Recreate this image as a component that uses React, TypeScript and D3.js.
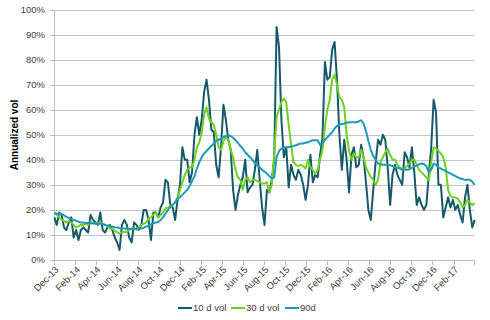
import React, { useRef, useEffect } from "react";
import { select, scaleTime, scaleLinear, line, timeMonth, timeFormat } from "d3";

// weekly observations starting 2 Dec 2013
const startDate = new Date(2013, 11, 2);

const vol10d = [
  17, 14, 19, 18, 13, 12, 15, 17, 9, 12, 8, 12, 13, 12, 11, 18, 16, 15, 14, 19,
  12, 11, 13, 14, 12, 9, 7, 4, 14, 16, 14, 9, 7, 15, 14, 12, 14, 20, 20, 16,
  8, 19, 19, 17, 21, 23, 32, 31, 22, 21, 16, 24, 30, 45, 40, 40, 31, 35, 50, 57,
  50, 56, 67, 72, 64, 52, 51, 38, 33, 45, 62, 56, 48, 44, 28, 20, 26, 30, 33, 40,
  27, 29, 30, 36, 44, 32, 21, 14, 28, 27, 32, 40, 93, 85, 56, 41, 45, 29, 38, 34,
  32, 36, 34, 30, 24, 30, 42, 31, 34, 33, 42, 49, 79, 72, 73, 84, 87, 72, 50, 36,
  48, 40, 27, 42, 45, 37, 38, 46, 41, 31, 20, 16, 28, 39, 48, 46, 50, 48, 37, 22,
  34, 38, 34, 32, 30, 43, 41, 37, 45, 35, 22, 25, 22, 20, 22, 34, 45, 64, 59, 30,
  30, 17, 21, 25, 21, 24, 20, 22, 18, 15, 25, 30, 20, 13, 16,
];

const vol30d = [
  19, 18, 17, 16, 15.5, 15, 15.5, 15, 14, 13, 13.5, 14, 14, 14.5, 14, 15, 15, 14.5, 14.6, 15,
  14.5, 14, 13.5, 12.6, 12.5, 11.8, 11, 10.5, 11, 11.2, 11.3, 12, 12.6, 12.5, 12, 13, 14, 14.5, 15, 16.6,
  17, 18, 19, 17, 18, 19, 20.6, 21, 21.5, 22, 23, 25, 28, 31, 34, 36, 37, 37, 40, 45,
  47, 51, 58, 61, 56.5, 55, 54, 50, 45, 44, 47.5, 49, 48, 44, 41, 36, 33, 32, 28, 32,
  33, 31, 32, 32, 31.5, 31, 30.5, 30.5, 31, 27, 30, 42, 57, 60, 63, 64.4, 63, 54, 46, 39,
  38, 37.5, 38, 37.5, 36.5, 40, 37, 36, 34.5, 36, 40, 44, 53, 60, 64, 72, 74, 70, 65, 64,
  61, 50, 43.5, 40, 42.5, 41, 41, 44, 41, 37, 35, 33, 32, 30, 32, 39, 41, 43, 44.5, 42,
  40, 40, 38, 37, 36, 36.5, 37.5, 38.5, 40, 40, 38, 36, 35, 34, 33, 32, 39, 45, 44.5, 43.5,
  42.5, 41, 37, 28, 25.5, 25, 25, 24.5, 23, 21, 22, 24, 23, 22, 22.6,
];

const vol90d = [
  18.5, 18.5, 18.5, 18.3, 17.8, 17.2, 16.8, 16.3, 16, 15.7, 15.3, 15, 15, 14.8, 14.8, 14.7, 14.6, 14.6, 14.5, 14.5,
  14.3, 14, 13.8, 13.5, 13.3, 13.1, 13, 12.8, 12.7, 12.6, 12.5, 12.4, 12.4, 12.5, 12.6, 12.6, 12.6, 12.8, 13.3, 13.8,
  14.2, 14.6, 15, 15.2, 16, 17, 18.5, 20, 21, 22, 23, 24.5, 25, 26, 27, 28, 29.5, 31.5, 33.5, 36.5,
  39, 41, 42.5, 43.5, 44.5, 45.5, 46.5, 47.5, 48, 48.5, 49, 49.5, 49.8, 49.5, 48.8, 47.8, 46.8, 45.5, 44.5, 43,
  42, 41, 40, 38.8, 37.8, 37, 36, 35.3, 34.5, 33.5, 32.5, 33, 41, 43.5, 44.5, 45, 45, 45, 45.3, 45.5,
  45.8, 46.2, 46.5, 46.5, 46.8, 47, 47.5, 47.8, 47.8, 47.8, 46, 46.5, 48, 49, 50, 51, 52.5, 53.5, 54, 54.3,
  54.5, 54.8, 55, 55, 55, 55, 55.3, 55.8, 54.5, 51.5, 47.5, 44, 41.5, 40, 38.5, 38.3, 38, 38, 38, 37.8,
  37.5, 37, 36.8, 36.5, 36, 36, 36, 36.2, 36.8, 37.3, 37.8, 38.2, 38.5, 38.2, 37.5, 35, 36, 38.5, 38, 37,
  36.5, 36, 35.5, 35, 34.5, 34, 33.5, 33, 32.5, 32.3, 32, 32, 32, 31.3, 30,
];

const series = [
  { name: "10 d vol", values: vol10d, color: "#17596b" },
  { name: "30 d vol", values: vol30d, color: "#6cd11f" },
  { name: "90d", values: vol90d, color: "#1b9bb8" },
];

const yTicks = [0, 10, 20, 30, 40, 50, 60, 70, 80, 90, 100];

function App() {
  const svgRef = useRef(null);

  useEffect(() => {
    const svg = select(svgRef.current);
    svg.selectAll("*").remove();

    const dates = vol10d.map((_, i) => new Date(startDate.getTime() + i * 7 * 864e5));

    const xScale = scaleTime()
      .domain([new Date(2013, 11, 1), new Date(2017, 3, 1)])
      .range([54, 474]);
    const yScale = scaleLinear().domain([0, 100]).range([260, 9.5]);

    // gridlines
    svg
      .append("g")
      .selectAll("line")
      .data(yTicks.slice(1))
      .join("line")
      .attr("x1", 54)
      .attr("x2", 474)
      .attr("y1", (d) => Math.round(yScale(d)) + 0.5)
      .attr("y2", (d) => Math.round(yScale(d)) + 0.5)
      .attr("stroke", "#c6c6c6")
      .attr("stroke-width", 1);

    // y axis
    const yAxis = svg.append("g");
    yAxis
      .append("line")
      .attr("x1", 54.5)
      .attr("x2", 54.5)
      .attr("y1", yScale(100))
      .attr("y2", 260)
      .attr("stroke", "#bdbdbd");
    yAxis
      .selectAll(".ytick")
      .data(yTicks)
      .join("line")
      .attr("class", "ytick")
      .attr("x1", 50)
      .attr("x2", 54)
      .attr("y1", (d) => Math.round(yScale(d)) + 0.5)
      .attr("y2", (d) => Math.round(yScale(d)) + 0.5)
      .attr("stroke", "#bdbdbd");
    yAxis
      .selectAll("text")
      .data(yTicks)
      .join("text")
      .attr("x", 45)
      .attr("y", (d) => yScale(d))
      .attr("dy", "0.35em")
      .attr("text-anchor", "end")
      .attr("font-size", 9.5)
      .attr("fill", "#404040")
      .text((d) => d + "%");

    svg
      .append("text")
      .attr("transform", "translate(18,135) rotate(-90)")
      .attr("text-anchor", "middle")
      .attr("font-size", 10)
      .attr("font-weight", "bold")
      .attr("fill", "#000")
      .text("Annualized vol");

    // x axis, a tick every two months from Dec-13
    const xTicks = timeMonth.range(new Date(2013, 11, 1), new Date(2017, 3, 2), 2);
    const fmt = timeFormat("%b-%y");
    const xAxis = svg.append("g");
    xAxis
      .append("line")
      .attr("x1", 54)
      .attr("x2", 474)
      .attr("y1", 260.5)
      .attr("y2", 260.5)
      .attr("stroke", "#bdbdbd");
    xAxis
      .selectAll(".xtick")
      .data(xTicks)
      .join("line")
      .attr("class", "xtick")
      .attr("x1", (d) => Math.round(xScale(d)) + 0.5)
      .attr("x2", (d) => Math.round(xScale(d)) + 0.5)
      .attr("y1", 260)
      .attr("y2", 265)
      .attr("stroke", "#bdbdbd");
    xAxis
      .selectAll("text")
      .data(xTicks.slice(0, -1))
      .join("text")
      .attr("transform", (d) => `translate(${xScale(d) + 3},${268}) rotate(-45)`)
      .attr("text-anchor", "end")
      .attr("dy", "0.35em")
      .attr("font-size", 9.5)
      .attr("fill", "#404040")
      .text((d) => fmt(d));

    // series
    const path = line()
      .x((d, i) => xScale(dates[i]))
      .y((d) => yScale(d));
    svg
      .append("g")
      .selectAll("path")
      .data(series)
      .join("path")
      .attr("d", (s) => path(s.values))
      .attr("fill", "none")
      .attr("stroke", (s) => s.color)
      .attr("stroke-width", 2)
      .attr("stroke-linejoin", "round");

    // legend
    const legendX = [178, 231, 285];
    const legend = svg
      .append("g")
      .selectAll("g")
      .data(series)
      .join("g")
      .attr("transform", (d, i) => `translate(${legendX[i]},308)`);
    legend
      .append("line")
      .attr("x1", 0)
      .attr("x2", 14)
      .attr("stroke", (d) => d.color)
      .attr("stroke-width", 2);
    legend
      .append("text")
      .attr("x", 15)
      .attr("dy", "0.35em")
      .attr("font-size", 9.5)
      .attr("fill", "#404040")
      .text((d) => d.name);
  }, []);

  return (
    <svg
      ref={svgRef}
      width={490}
      height={320}
      style={{
        position: "absolute",
        left: 0,
        top: 0,
        background: "#fff",
        fontFamily: "'Liberation Sans', Arial, sans-serif",
      }}
    />
  );
}

export default App;
